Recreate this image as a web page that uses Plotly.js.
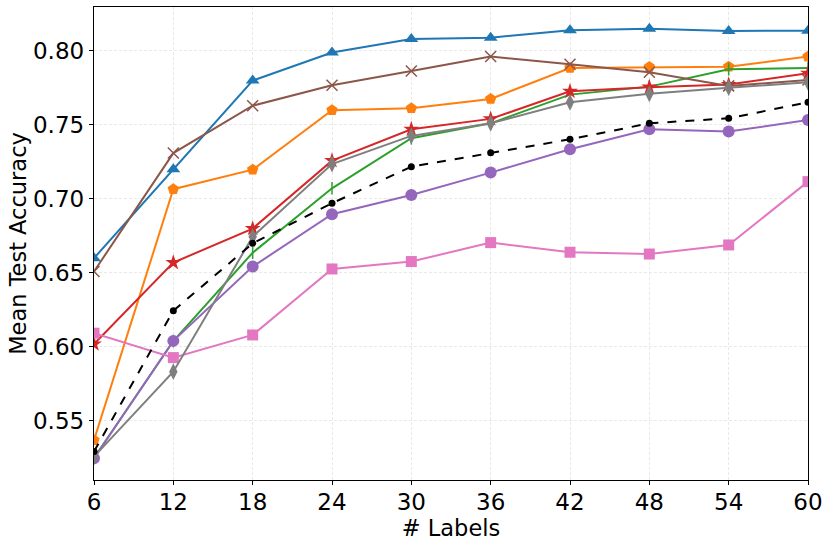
<!DOCTYPE html>
<html><head><meta charset="utf-8">
<script src="https://cdn.plot.ly/plotly-3.0.1.min.js"></script>
<style>html,body{margin:0;padding:0;background:#fff}#chart{width:831px;height:545px}</style>
</head><body><div id="chart"></div>
<script>
const labels = [6, 12, 18, 24, 30, 36, 42, 48, 54, 60];
const seriesBlue   = [0.660, 0.720, 0.780, 0.799, 0.808, 0.809, 0.814, 0.815, 0.8135, 0.8137];
const seriesOrange = [0.537, 0.7066, 0.7198, 0.760, 0.7613, 0.7676, 0.7885, 0.7892, 0.7894, 0.7962];
const seriesGreen  = [0.525, 0.604, 0.6637, 0.7072, 0.741, 0.7511, 0.7705, 0.7759, 0.7876, 0.7885];
const seriesRed    = [0.602, 0.657, 0.680, 0.7259, 0.7471, 0.7541, 0.7727, 0.7755, 0.7773, 0.7849];
const seriesPurple = [0.5248, 0.6041, 0.6543, 0.6897, 0.7027, 0.7178, 0.7336, 0.7471, 0.7455, 0.7534];
const seriesBrown  = [0.651, 0.731, 0.763, 0.7768, 0.7865, 0.7962, 0.791, 0.7856, 0.7764, 0.7804];
const seriesPink   = [0.6093, 0.5928, 0.6081, 0.6527, 0.6577, 0.6705, 0.664, 0.6628, 0.6689, 0.7117];
const seriesGray   = [0.5259, 0.5833, 0.6745, 0.7236, 0.7426, 0.7511, 0.7653, 0.771, 0.7752, 0.7788];
const seriesBlack  = [0.5293, 0.6245, 0.670, 0.6971, 0.7218, 0.7313, 0.7403, 0.7511, 0.7545, 0.7653];

function tr(y, color, symbol, size, dash, lw, open) {
  return {
    x: labels, y: y, type: 'scatter', mode: 'lines+markers',
    line: {color: color, width: lw || 2, dash: dash || 'solid'},
    marker: {symbol: symbol, size: size, color: color,
             line: {color: color, width: open ? 1.5 : 0}},
    showlegend: false, cliponaxis: true
  };
}
const data = [
  tr(seriesBlue, '#1f77b4', 'triangle-up', 12),
  tr(seriesOrange, '#ff7f0e', 'pentagon', 12),
  tr(seriesGreen, '#2ca02c', 'line-ns-open', 9, null, 2, true),
  tr(seriesRed, '#d62728', 'star', 12),
  tr(seriesPurple, '#9467bd', 'circle', 12),
  tr(seriesBrown, '#8c564b', 'x-thin-open', 11, null, 2, true),
  tr(seriesPink, '#e377c2', 'square', 11),
  tr(seriesGray, '#7f7f7f', 'diamond-tall', 12),
  tr(seriesBlack, '#000000', 'circle', 7, 'dash', 2)
];
const layout = {
  width: 831, height: 545,
  margin: {l: 94, r: 23, t: 7, b: 65},
  paper_bgcolor: '#fff', plot_bgcolor: '#fff',
  font: {family: 'DejaVu Sans', size: 22, color: '#000'},
  xaxis: {
    range: [6, 60], tickvals: labels, ticktext: labels.map(String),
    showgrid: true, gridcolor: '#e3e3e3', griddash: '3px,2px', gridwidth: 0.8,
    zeroline: false, showline: true, linecolor: '#000', linewidth: 1.2, mirror: true,
    ticks: 'outside', ticklen: 4, tickcolor: '#000', ticklabelstandoff: -3,
    tickfont: {family: 'DejaVu Sans', size: 23},
    title: {text: '# Labels', font: {family: 'DejaVu Sans', size: 22.5}, standoff: 0}
  },
  yaxis: {
    range: [0.5101, 0.8297], tickvals: [0.55, 0.60, 0.65, 0.70, 0.75, 0.80],
    ticktext: ['0.55', '0.60', '0.65', '0.70', '0.75', '0.80'],
    showgrid: true, gridcolor: '#e3e3e3', griddash: '3px,2px', gridwidth: 0.8,
    zeroline: false, showline: true, linecolor: '#000', linewidth: 1.2, mirror: true,
    ticks: 'outside', ticklen: 4, tickcolor: '#000',
    tickfont: {family: 'DejaVu Sans', size: 23},
    title: {text: 'Mean Test Accuracy', font: {family: 'DejaVu Sans', size: 22.5}, standoff: 0}
  }
};
Plotly.newPlot('chart', data, layout, {displayModeBar: false, staticPlot: true});
</script></body></html>
